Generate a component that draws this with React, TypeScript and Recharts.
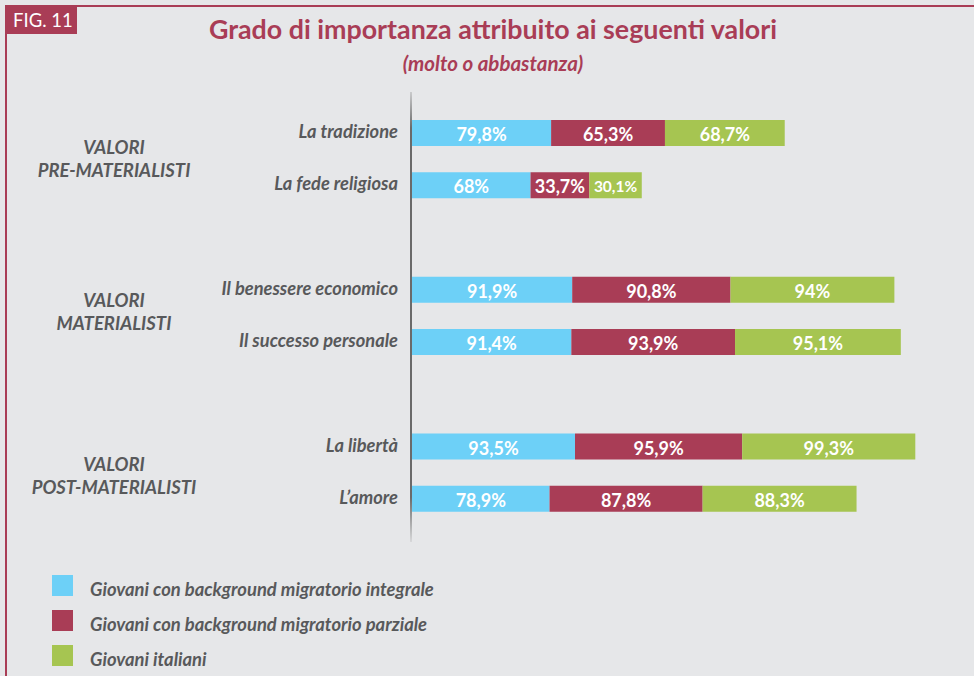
import { BarChart, Bar, XAxis, YAxis, LabelList } from 'recharts';

// rows (gap rows separate the three groups of values)
const categories = ['La tradizione', 'La fede religiosa', 'gap1', 'Il benessere economico', 'Il successo personale', 'gap2', 'La libertà', 'L’amore'];
const integrale = [79.8, 68, null, 91.9, 91.4, null, 93.5, 78.9];
const parziale = [65.3, 33.7, null, 90.8, 93.9, null, 95.9, 87.8];
const italiani = [68.7, 30.1, null, 94, 95.1, null, 99.3, 88.3];

const groupLabels = [
  ['VALORI', 'PRE-MATERIALISTI'],
  ['VALORI', 'MATERIALISTI'],
  ['VALORI', 'POST-MATERIALISTI'],
];

const seriesNames = [
  'Giovani con background migratorio integrale',
  'Giovani con background migratorio parziale',
  'Giovani italiani',
];

const BLUE = '#6dd0f7';
const RED = '#a93d56';
const GREEN = '#a6c551';
const GRAY = '#58595b';
const BG = '#e6e7e9';
const COLORS = [BLUE, RED, GREEN];
const KEYS = ['integrale', 'parziale', 'italiani'];

const data = categories.map((name, i) => ({
  name,
  integrale: integrale[i],
  parziale: parziale[i],
  italiani: italiani[i],
}));

const fmt = (v: number) => `${String(v).replace('.', ',')}%`;

const renderLabel = (props: any) => {
  const { x, y, width, height, value } = props;
  if (value == null) return null;
  const size = width < 56 ? 15.5 : 18;
  return (
    <text
      x={x + width / 2}
      y={y + height / 2 + 1}
      fill="#fff"
      textAnchor="middle"
      dominantBaseline="central"
      style={{ fontSize: size, fontWeight: 700, fontFamily: 'Lato' }}
    >
      {fmt(value)}
    </text>
  );
};

const CategoryTick = (props: any) => {
  const { y, payload } = props;
  if (String(payload.value).startsWith('gap')) return null;
  return (
    <text
      x={398}
      y={y - 2}
      textAnchor="end"
      dominantBaseline="central"
      fill={GRAY}
      style={{ fontSize: 18.3, fontWeight: 700, fontStyle: 'italic', fontFamily: 'Lato' }}
    >
      {payload.value}
    </text>
  );
};

// vertical centre of each group label block
const GROUP_Y = [159, 312, 476];

export default function App() {
  return (
    <div
      style={{
        position: 'absolute',
        left: 0,
        top: 0,
        width: 974,
        height: 676,
        background: BG,
        overflow: 'hidden',
        fontFamily: 'Lato, sans-serif',
      }}
    >
      {/* frame */}
      <div style={{ position: 'absolute', left: 5, top: 5, width: 969, height: 2, background: RED }} />
      <div style={{ position: 'absolute', left: 5, top: 5, width: 2, height: 671, background: RED }} />
      <div
        style={{
          position: 'absolute',
          left: 5,
          top: 5,
          width: 72,
          height: 29,
          background: RED,
          color: '#fff',
          fontSize: 18.5,
          lineHeight: '30px',
          paddingLeft: 8,
          boxSizing: 'border-box',
          whiteSpace: 'nowrap',
        }}
      >
        FIG. 11
      </div>

      {/* title */}
      <div
        style={{
          position: 'absolute',
          left: 93,
          width: 800,
          top: 13,
          textAlign: 'center',
          color: RED,
          fontSize: 26.8,
          fontWeight: 700,
        }}
      >
        Grado di importanza attribuito ai seguenti valori
      </div>
      <div
        style={{
          position: 'absolute',
          left: 93,
          width: 800,
          top: 51,
          textAlign: 'center',
          color: RED,
          fontSize: 20.5,
          fontWeight: 700,
          fontStyle: 'italic',
        }}
      >
        (molto o abbastanza)
      </div>

      {/* axis line with faded ends */}
      <div
        style={{
          position: 'absolute',
          left: 410,
          top: 92,
          width: 2,
          height: 450,
          background: 'linear-gradient(to bottom, rgba(90,90,90,0.2), #6a6a6a 8%, #6a6a6a 90%, rgba(90,90,90,0.1))',
        }}
      />

      {/* group labels */}
      {groupLabels.map((lines, i) => (
        <div
          key={i}
          style={{
            position: 'absolute',
            left: 14,
            width: 200,
            top: GROUP_Y[i] - 23,
            textAlign: 'center',
            color: GRAY,
            fontSize: 18.5,
            lineHeight: '23px',
            fontWeight: 700,
            fontStyle: 'italic',
          }}
        >
          {lines.map((l) => (
            <div key={l}>{l}</div>
          ))}
        </div>
      ))}

      <div style={{ position: 'absolute', left: 0, top: 0 }}>
        <BarChart
          width={974}
          height={676}
          data={data}
          layout="vertical"
          margin={{ top: 107, bottom: 151, left: 0, right: 39 }}
        >
          <XAxis type="number" domain={[0, 300]} hide />
          <YAxis
            type="category"
            dataKey="name"
            width={412}
            axisLine={false}
            tickLine={false}
            tick={<CategoryTick />}
            interval={0}
          />
          {KEYS.map((k, i) => (
            <Bar key={k} dataKey={k} stackId="a" fill={COLORS[i]} barSize={26} isAnimationActive={false}>
              <LabelList dataKey={k} content={renderLabel} />
            </Bar>
          ))}
        </BarChart>
      </div>

      {/* legend */}
      <div style={{ position: 'absolute', left: 52, top: 575 }}>
        {seriesNames.map((n, i) => (
          <div key={n} style={{ display: 'flex', alignItems: 'center', height: 21, marginBottom: 14 }}>
            <div style={{ width: 21, height: 21, background: COLORS[i], marginRight: 17, flexShrink: 0 }} />
            <span
              style={{
                color: GRAY,
                fontSize: 18.4,
                fontWeight: 700,
                fontStyle: 'italic',
                whiteSpace: 'nowrap',
                position: 'relative',
                top: 3,
              }}
            >
              {n}
            </span>
          </div>
        ))}
      </div>
    </div>
  );
}
